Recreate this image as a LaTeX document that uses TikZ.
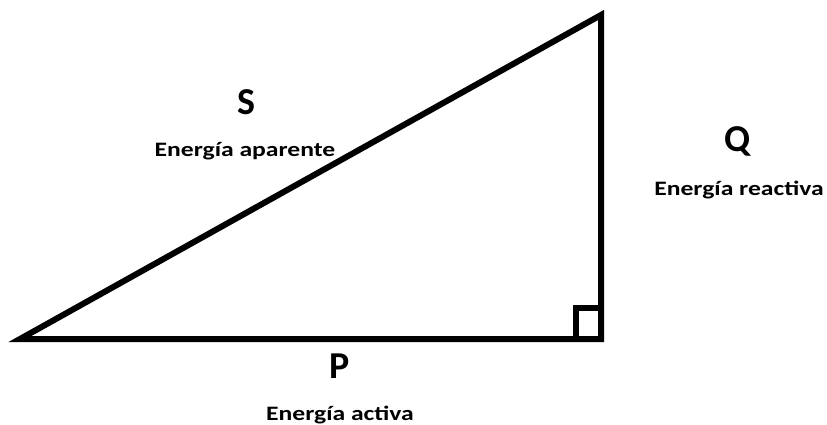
\documentclass[tikz,border=0pt]{standalone}
\usepackage{fontspec}
\setmainfont{Carlito}
\newfontfamily\labfont[FakeStretch=1.25]{Carlito}
\usepackage{tikz}
\usetikzlibrary{calc}

\begin{document}
\begin{tikzpicture}[
  x=1pt, y=-1pt,
  side/.style={draw=black, line width=6pt, miter limit=10},
  sym/.style={font=\bfseries\fontsize{38}{40}\selectfont, anchor=base, inner sep=0pt},
  lab/.style={font=\labfont\bfseries\fontsize{20.5}{22}\selectfont, anchor=base, inner sep=0pt}]
\useasboundingbox (0,0) rectangle (827,425);
\coordinate (left) at (20,339);
\coordinate (corner) at (601,339);
\coordinate (top) at (601,15);
\coordinate (sqa) at (576,339);
\coordinate (sqb) at (576,308);
\coordinate (sqc) at (601,308);
\draw[side] (left) -- (corner) -- (top) -- cycle;
\draw[side] (sqa) -- (sqb) -- (sqc);
\node[sym] (S) at (246,115) {S};
\node[lab] (Slab) at (245,157) {Energía aparente};
\node[sym] (Q) at (738,152) {Q};
\node[lab] (Qlab) at (739,195) {Energía reactiva};
\node[sym] (P) at (340,378) {P};
\node[lab] (Plab) at (340,420) {Energía activa};
\end{tikzpicture}
\end{document}
